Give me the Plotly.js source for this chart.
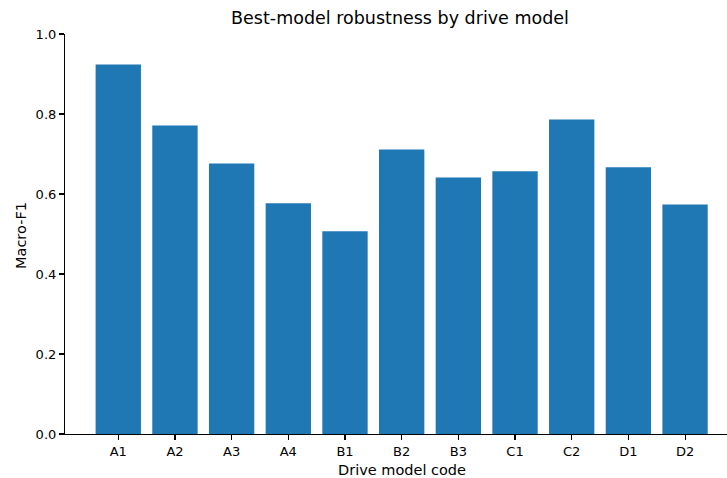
<!DOCTYPE html>
<html>
<head>
<meta charset="utf-8">
<script src="https://cdn.plot.ly/plotly-3.0.1.min.js"></script>
<style>html,body{margin:0;padding:0;background:#fff;}#chart{width:727px;height:478px;}</style>
</head>
<body>
<div id="chart"></div>
<script>
const categories = ["A1","A2","A3","A4","B1","B2","B3","C1","C2","D1","D2"];
const macroF1 = [0.924, 0.771, 0.676, 0.577, 0.507, 0.711, 0.641, 0.657, 0.786, 0.667, 0.574];
const yTicks = [0, 0.2, 0.4, 0.6, 0.8, 1.0];

const font = "DejaVu Sans, sans-serif";
Plotly.newPlot("chart", [{
  type: "bar",
  x: categories.map((_, i) => i),
  y: macroF1,
  width: 0.8,
  marker: {color: "#1f77b4", line: {width: 0}},
  hoverinfo: "skip"
}], {
  width: 727, height: 478,
  margin: {l: 65, r: 0, t: 34, b: 44},
  paper_bgcolor: "#fff", plot_bgcolor: "#fff",
  font: {family: font, color: "#000", size: 13},
  title: {text: "Best-model robustness by drive model", font: {size: 17.5, family: font, color: "#000"}, x: 400/727, xanchor: "center", y: 1 - 18/478, yanchor: "middle"},
  xaxis: {
    range: [-0.94, 10.74],
    tickmode: "array",
    tickvals: categories.map((_, i) => i),
    ticktext: categories,
    showgrid: false, zeroline: false,
    showline: true, linecolor: "#000", linewidth: 1.1,
    ticks: "outside", ticklen: 5, tickwidth: 1.1, tickcolor: "#000",
    tickfont: {size: 13, family: font},
    fixedrange: true
  },
  yaxis: {
    range: [0, 1.0],
    tickmode: "array",
    tickvals: yTicks,
    ticktext: yTicks.map(v => v.toFixed(1)),
    showgrid: false, zeroline: false,
    showline: true, linecolor: "#000", linewidth: 1.1,
    ticks: "outside", ticklen: 5, tickwidth: 1.1, tickcolor: "#000",
    tickfont: {size: 13, family: font},
    fixedrange: true
  },
  annotations: [
    {text: "Drive model code", xref: "paper", yref: "paper", x: (402 - 65) / 662, y: -(470 - 434) / 400,
     xanchor: "center", yanchor: "middle", showarrow: false, font: {size: 14.5, family: font, color: "#000"}},
    {text: "Macro-F1", xref: "paper", yref: "paper", x: (21 - 65) / 662, y: (434 - 236) / 400,
     xanchor: "center", yanchor: "middle", textangle: -90, showarrow: false, font: {size: 14.5, family: font, color: "#000"}}
  ],
  showlegend: false
}, {displayModeBar: false, staticPlot: true});
</script>
</body>
</html>
